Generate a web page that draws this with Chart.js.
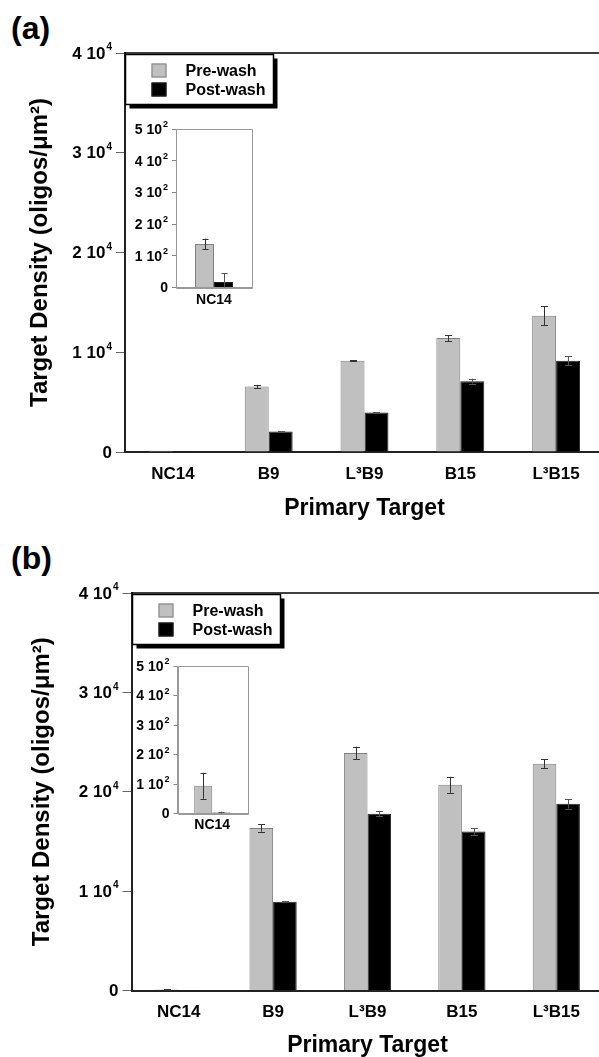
<!DOCTYPE html>
<html>
<head>
<meta charset="utf-8">
<script src="https://cdn.jsdelivr.net/npm/chart.js@4.4.0/dist/chart.umd.min.js"></script>
<style>
  body { margin: 0; background: #fff; overflow: hidden; width: 599px; height: 1057px; position: relative; }
  canvas { position: absolute; }
  .panel { position: absolute; left: 11px; font: bold 32px "Liberation Sans", Arial, sans-serif; line-height: 1; }
</style>
</head>
<body>
<div class="panel" style="top:12px">(a)</div>
<div class="panel" style="top:542px">(b)</div>
<canvas id="mainA" width="610" height="530" style="left:0;top:0"></canvas>
<canvas id="insetA" width="128" height="195" style="left:128px;top:118px"></canvas>
<canvas id="mainB" width="610" height="527" style="left:0;top:530px"></canvas>
<canvas id="insetB" width="122" height="185" style="left:130px;top:655px"></canvas>
<script>
// data
const categories = ['NC14', 'B9', 'L³B9', 'B15', 'L³B15'];
const seriesNames = ['Pre-wash', 'Post-wash'];

// panel (a)
const preA = [137, 6560, 9160, 11430, 13660];
const preAErr = [17, 170, 60, 300, 970];
const postA = [17, 2060, 3960, 7100, 9160];
const postAErr = [28, 40, 40, 250, 440];

// panel (b)
const preB = [94, 16350, 23900, 20700, 22820];
const preBErr = [44, 370, 630, 810, 470];
const postB = [3, 8930, 17790, 16000, 18790];
const postBErr = [3, 50, 230, 310, 480];

const mainTicks = ['0', '1 10⁴', '2 10⁴', '3 10⁴', '4 10⁴'];
const insetTicks = ['0', '1 10²', '2 10²', '3 10²', '4 10²', '5 10²'];

const FONT = '"Liberation Sans", Arial, sans-serif';
Chart.defaults.font.family = FONT;
Chart.defaults.color = '#000';

const SUP = { '²': '2', '⁴': '4' };

// error bars
const errorBars = {
    id: 'errorBars',
    afterDatasetsDraw(chart, args, opts) {
        const ctx = chart.ctx;
        const yScale = chart.scales.y;
        chart.data.datasets.forEach((ds, i) => {
            const meta = chart.getDatasetMeta(i);
            meta.data.forEach((bar, j) => {
                const v = ds.data[j], e = ds.errors[j];
                const yTop = yScale.getPixelForValue(v + e);
                const yBot = yScale.getPixelForValue(Math.max(v - e, 0));
                if (yBot - yTop < 0.5) return;
                const x = Math.round(bar.x) + 0.5;
                ctx.save();
                ctx.strokeStyle = ds.errColor;
                ctx.lineWidth = 1;
                ctx.beginPath();
                ctx.moveTo(x, yTop); ctx.lineTo(x, yBot);
                ctx.moveTo(x - opts.cap, Math.round(yTop) + 0.5); ctx.lineTo(x + opts.cap, Math.round(yTop) + 0.5);
                ctx.moveTo(x - opts.cap, Math.round(yBot) + 0.5); ctx.lineTo(x + opts.cap, Math.round(yBot) + 0.5);
                ctx.stroke();
                ctx.restore();
            });
        });
    }
};

// y tick labels with a real raised exponent
const supTicks = {
    id: 'supTicks',
    afterDraw(chart, args, opts) {
        const ctx = chart.ctx, s = chart.scales.y;
        ctx.save();
        ctx.fillStyle = '#000';
        ctx.textBaseline = 'middle';
        s.ticks.forEach((t, i) => {
            const txt = opts.labels[i];
            const last = txt.slice(-1);
            const base = SUP[last] ? txt.slice(0, -1) : txt;
            const exp = SUP[last] || '';
            const y = s.getPixelForTick(i);
            ctx.font = 'bold ' + opts.size + 'px ' + FONT;
            const wb = ctx.measureText(base).width;
            ctx.font = 'bold ' + opts.supSize + 'px ' + FONT;
            const we = exp ? ctx.measureText(exp).width + 1 : 0;
            const x0 = s.right - opts.gap - wb - we;
            ctx.font = 'bold ' + opts.size + 'px ' + FONT;
            ctx.fillText(base, x0, y + 1);
            if (exp) {
                ctx.font = 'bold ' + opts.supSize + 'px ' + FONT;
                ctx.fillText(exp, x0 + wb + 1, y - opts.size * 0.32);
            }
        });
        ctx.restore();
    }
};

// top frame line for main plot / full box for inset
const frame = {
    id: 'frame',
    afterDraw(chart, args, opts) {
        const a = chart.chartArea, ctx = chart.ctx;
        ctx.save();
        ctx.strokeStyle = opts.color;
        ctx.lineWidth = opts.width;
        ctx.beginPath();
        if (opts.box) {
            ctx.rect(Math.round(a.left) + 0.5, Math.round(a.top) + 0.5, Math.round(a.right - a.left), Math.round(a.bottom - a.top));
        } else {
            ctx.moveTo(a.left, a.top); ctx.lineTo(a.right, a.top);
        }
        ctx.stroke();
        ctx.restore();
    }
};

// boxed legend with drop shadow
const boxLegend = {
    id: 'boxLegend',
    afterDraw(chart) {
        const a = chart.chartArea, ctx = chart.ctx;
        const x = Math.round(a.left) + 0.5, y = Math.round(a.top) + 1.5, w = 148, h = 50;
        ctx.save();
        ctx.fillStyle = '#000';
        ctx.fillRect(x + 4, y + 4, w, h);
        ctx.fillStyle = '#fff';
        ctx.fillRect(x, y, w, h);
        ctx.lineWidth = 1.5;
        ctx.strokeStyle = '#000';
        ctx.strokeRect(x, y, w, h);
        ctx.font = 'bold 16px ' + FONT;
        ctx.textBaseline = 'middle';
        chart.data.datasets.forEach((ds, i) => {
            const cy = y + 16 + i * 19;
            ctx.fillStyle = ds.backgroundColor;
            ctx.fillRect(x + 26, cy - 7, 15, 14);
            ctx.strokeStyle = ds.borderColor;
            ctx.lineWidth = 1;
            ctx.strokeRect(x + 26.5, cy - 6.5, 14, 13);
            ctx.fillStyle = '#000';
            ctx.fillText(ds.label, x + 60, cy + 1);
        });
        ctx.restore();
    }
};

function datasets(pre, preErr, post, postErr) {
    return [{
        label: seriesNames[0],
        data: pre,
        errors: preErr,
        errColor: '#333',
        backgroundColor: '#c0c0c0',
        borderColor: '#808080',
        borderWidth: 1,
        borderSkipped: 'start'
    }, {
        label: seriesNames[1],
        data: post,
        errors: postErr,
        errColor: '#555',
        backgroundColor: '#000',
        borderColor: '#222',
        borderWidth: 1,
        borderSkipped: 'start'
    }];
}

function mainChart(id, pre, preErr, post, postErr, lay) {
    new Chart(document.getElementById(id), {
        type: 'bar',
        data: { labels: categories, datasets: datasets(pre, preErr, post, postErr) },
        options: {
            responsive: false,
            animation: false,
            devicePixelRatio: 1,
            categoryPercentage: 0.5,
            barPercentage: 1,
            layout: { padding: { top: lay.top, right: lay.right, bottom: 0, left: 0 } },
            plugins: {
                legend: { display: false },
                tooltip: { enabled: false },
                errorBars: { cap: 3.5 },
                frame: { color: '#000', width: 1.5, box: false },
                supTicks: { labels: mainTicks, size: 17, supSize: 10, gap: 13 }
            },
            scales: {
                x: {
                    grid: { display: false, drawTicks: false },
                    border: { color: '#222', width: 2 },
                    ticks: { font: { size: 17, weight: 'bold' }, padding: lay.xPad, maxRotation: 0 },
                    title: { display: true, text: 'Primary Target', font: { size: 23, weight: 'bold', lineHeight: 1 }, padding: { top: 0, bottom: lay.titleBottom } },
                    afterFit: (s) => { s.height = lay.xHeight; }
                },
                y: {
                    min: 0, max: 40000,
                    ticks: { stepSize: 10000, color: 'rgba(0,0,0,0)', callback: (v, i) => mainTicks[i] },
                    grid: { drawOnChartArea: false, tickLength: 9, color: '#666', lineWidth: 1 },
                    border: { color: '#222', width: 2 },
                    title: { display: true, text: 'Target Density (oligos/μm²)', font: { size: 24, weight: 'bold', lineHeight: 1 }, padding: { top: lay.yTitle, bottom: 0 } },
                    afterFit: (s) => { s.width = lay.yWidth; }
                }
            }
        },
        plugins: [errorBars, frame, supTicks, boxLegend]
    });
}

function insetChart(id, pre, preErr, post, postErr, lay) {
    new Chart(document.getElementById(id), {
        type: 'bar',
        data: { labels: categories.slice(0, 1), datasets: datasets(pre.slice(0, 1), preErr.slice(0, 1), post.slice(0, 1), postErr.slice(0, 1)) },
        options: {
            responsive: false,
            animation: false,
            devicePixelRatio: 1,
            categoryPercentage: lay.cat,
            barPercentage: 1,
            layout: { padding: { top: lay.top, right: lay.right, bottom: 0, left: 0 } },
            plugins: {
                legend: { display: false },
                tooltip: { enabled: false },
                errorBars: { cap: 3 },
                frame: { color: '#999', width: 1, box: true },
                supTicks: { labels: insetTicks, size: 14, supSize: 9, gap: 8 }
            },
            scales: {
                x: {
                    grid: { display: false, drawTicks: false },
                    border: { color: '#999', width: 1 },
                    ticks: { font: { size: 14, weight: 'bold' }, padding: lay.xPad },
                    afterFit: (s) => { s.height = lay.xHeight; }
                },
                y: {
                    min: 0, max: 500,
                    ticks: { stepSize: 100, color: 'rgba(0,0,0,0)', callback: (v, i) => insetTicks[i] },
                    grid: { drawOnChartArea: false, tickLength: 4, color: '#888' },
                    border: { color: '#999', width: 1 },
                    afterFit: (s) => { s.width = lay.yWidth; }
                }
            }
        },
        plugins: [errorBars, frame, supTicks]
    });
}

mainChart('mainA', preA, preAErr, postA, postAErr, { top: 53, right: 6, xHeight: 78, xPad: 12, titleBottom: 10, yWidth: 125, yTitle: 28 });
mainChart('mainB', preB, preBErr, postB, postBErr, { top: 63, right: 6.5, xHeight: 66.5, xPad: 12, titleBottom: 0, yWidth: 131.5, yTitle: 30 });
insetChart('insetA', preA, preAErr, postA, postAErr, { top: 11, right: 4, xHeight: 25.5, xPad: 4, yWidth: 48, cat: 0.5 });
insetChart('insetB', preB, preBErr, postB, postBErr, { top: 11, right: 5, xHeight: 26.5, xPad: 3, yWidth: 47.5, cat: 0.52 });
</script>
</body>
</html>
